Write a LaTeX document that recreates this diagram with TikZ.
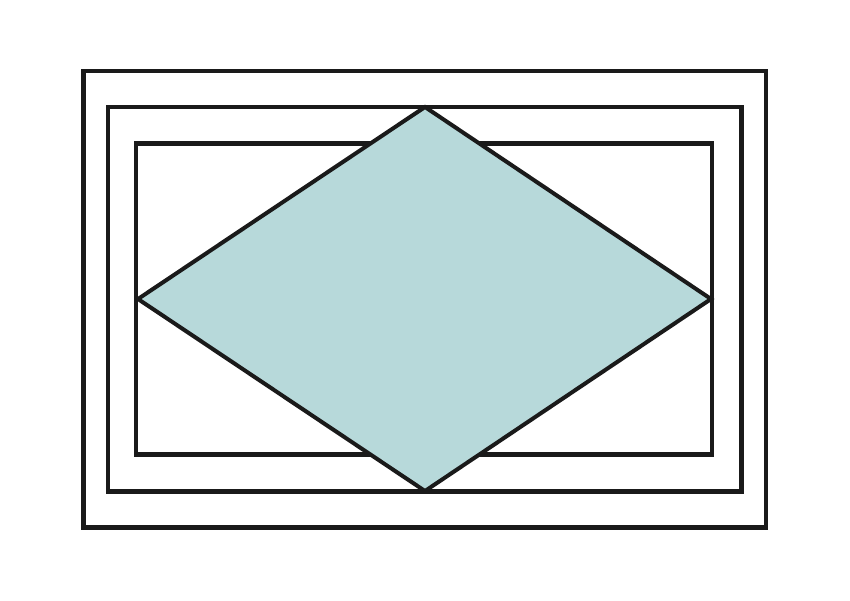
\documentclass[tikz,border=0pt]{standalone}
\definecolor{frameblack}{HTML}{1A1A1A}
\definecolor{teal}{HTML}{B7D9DA}
\begin{document}
\begin{tikzpicture}[x=1pt,y=-1pt,
  frame/.style={draw=frameblack,line width=4.6pt,line join=miter},
  rhomb/.style={draw=frameblack,fill=teal,line width=4pt,line join=miter}]
\useasboundingbox (0,0) rectangle (850,600);
\fill[white] (0,0) rectangle (850,600);
\draw[frame] (83.5,71) rectangle (766,527.5);
\draw[frame] (108,107) rectangle (741.5,491.5);
\draw[frame] (136,143.5) rectangle (712,454.5);
\coordinate (T) at (425,107);
\coordinate (R) at (711,299);
\coordinate (B) at (425,491);
\coordinate (L) at (138,299);
\draw[rhomb] (T) -- (R) -- (B) -- (L) -- cycle;
\end{tikzpicture}
\end{document}
